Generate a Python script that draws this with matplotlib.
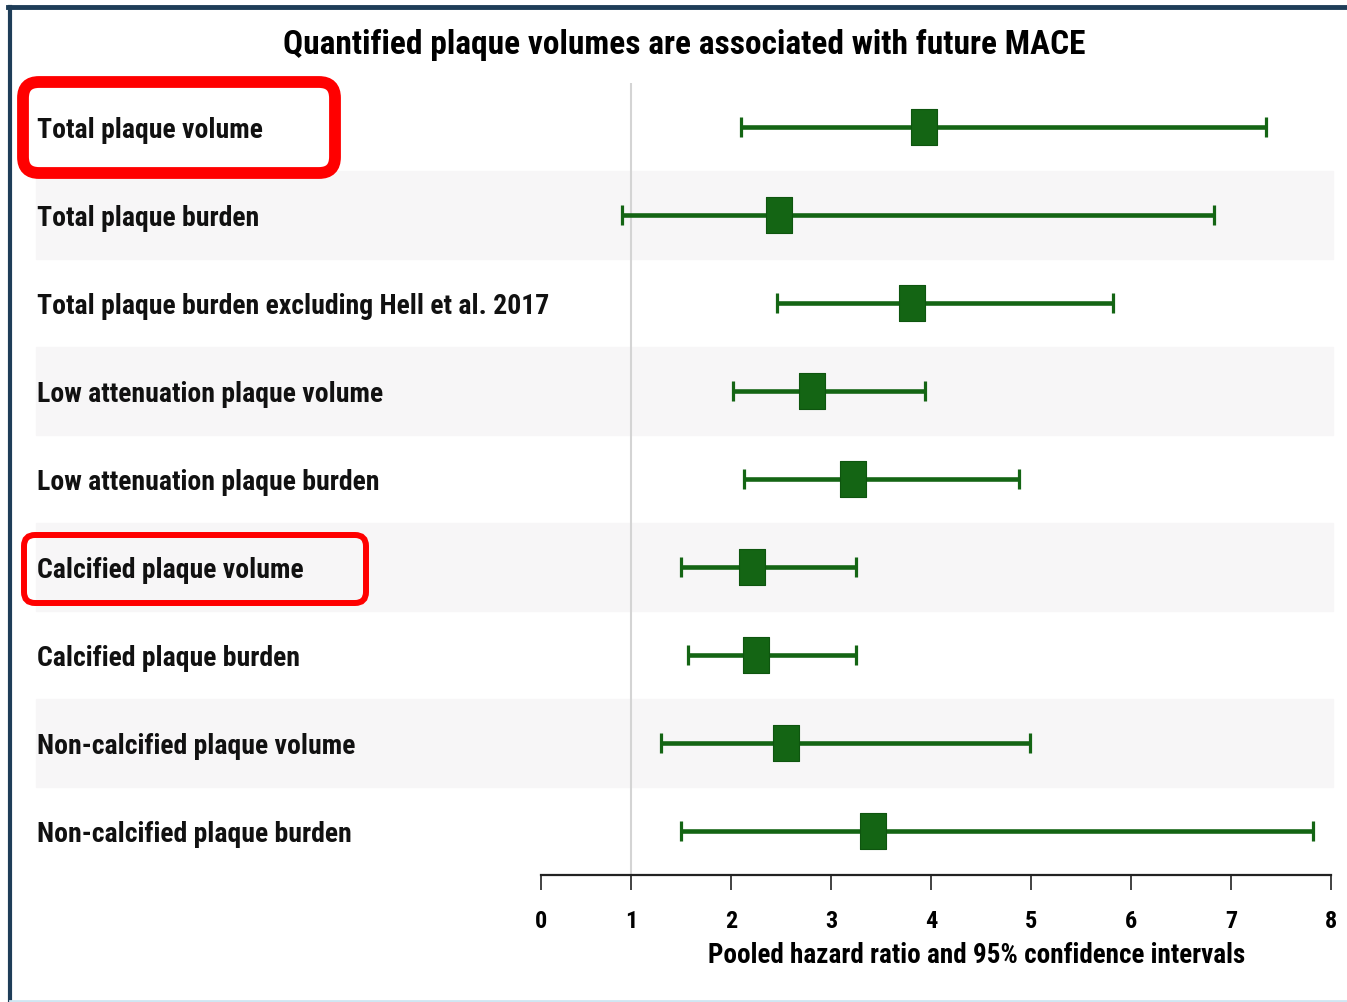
import matplotlib
matplotlib.use("Agg")
import matplotlib.pyplot as plt
import numpy as np
from matplotlib.patches import FancyBboxPatch
from matplotlib.lines import Line2D

plt.rcParams['font.family'] = ['Roboto Condensed', 'Liberation Sans', 'DejaVu Sans']
plt.rcParams['font.weight'] = 'bold'
plt.rcParams['axes.labelweight'] = 'bold'

# outcomes, top to bottom
labels = [
    "Total plaque volume",
    "Total plaque burden",
    "Total plaque burden excluding Hell et al. 2017",
    "Low attenuation plaque volume",
    "Low attenuation plaque burden",
    "Calcified plaque volume",
    "Calcified plaque burden",
    "Non-calcified plaque volume",
    "Non-calcified plaque burden",
]
hr = [3.93, 2.48, 3.81, 2.81, 3.22, 2.21, 2.25, 2.55, 3.42]
ci_low = [2.10, 0.90, 2.46, 2.02, 2.13, 1.50, 1.57, 1.30, 1.50]
ci_high = [7.35, 6.83, 5.82, 3.94, 4.88, 3.25, 3.25, 4.99, 7.82]
highlighted = ["Total plaque volume", "Calcified plaque volume"]

xticks = [0, 1, 2, 3, 4, 5, 6, 7, 8]

W, H = 1347, 1002
GREEN = '#146514'

fig = plt.figure(figsize=(W / 100, H / 100), dpi=100)
ax = fig.add_axes([541 / W, 1 - 875 / H, 790 / W, 792 / H])

# the original axis squeezes the 0-1 segment a bit
ax.set_xscale('function', functions=(
    lambda x: np.where(x < 1, 0.9 * x, x - 0.1),
    lambda y: np.where(y < 0.9, y / 0.9, y + 0.1)))

rows = list(range(1, len(labels) + 1))

# alternating row shading, extended under the labels
for r in rows:
    if r % 2 == 0:
        ax.axhspan(r - 0.5, r + 0.5, xmin=-0.639, xmax=1.003,
                   color='#f7f6f7', zorder=0, clip_on=False)

ax.axvline(1, color='#d4d4d4', lw=1.5, zorder=1)

err = [[h - lo for h, lo in zip(hr, ci_low)], [hi - h for h, hi in zip(hr, ci_high)]]
ax.errorbar(hr, rows, xerr=err, fmt='none', ecolor=GREEN, elinewidth=3.3,
            capsize=7.5, capthick=2.3, zorder=2)
box = [(-1, -1.42), (1, -1.42), (1, 1.42), (-1, 1.42), (-1, -1.42)]
ax.plot(hr, rows, ls='none', marker=box, markersize=26.5,
        color=GREEN, mec='#0e550f', mew=0.8, zorder=3)

for r, lab in zip(rows, labels):
    ax.annotate(lab, xy=(37 / W, r), xycoords=('figure fraction', 'data'),
                xytext=(0, -3), textcoords='offset pixels',
                va='center', ha='left', fontsize=20, color='#111111')

ax.set_xlim(0, 8)
ax.set_ylim(len(labels) + 0.5, 0.5)
ax.set_xticks(xticks)
ax.set_yticks([])
for s in ['top', 'right', 'left']:
    ax.spines[s].set_visible(False)
ax.spines['bottom'].set_linewidth(1.6)
ax.spines['bottom'].set_color('#222222')
ax.tick_params(axis='x', direction='out', length=11, width=1.2, color='#222222',
               pad=14, labelsize=17.5)
ax.set_xlabel("Pooled hazard ratio and 95% confidence intervals", fontsize=19.5)
ax.xaxis.set_label_coords(0.551, -0.085)
ax.patch.set_visible(False)

fig.text(684 / W, 1 - 45 / H, "Quantified plaque volumes are associated with future MACE",
         ha='center', va='center', fontsize=24)

# red highlight boxes around two labels
for lab, (x0, y0, x1, y1, lw, rad) in zip(highlighted, [(23, 82, 335, 173, 8.5, 16),
                                                      (24, 535, 366, 603, 4.3, 11)]):
    fig.patches.append(FancyBboxPatch(
        ((x0 + rad) / W, 1 - (y1 - rad) / H), (x1 - x0 - 2 * rad) / W, (y1 - y0 - 2 * rad) / H,
        boxstyle=f"round,pad={rad / W}", transform=fig.transFigure,
        fill=False, ec='#ff0000', lw=lw, mutation_aspect=W / H))

# frame lines of the original figure
fig.add_artist(Line2D([8 / W, 1], [1 - 7 / H, 1 - 7 / H], color='#1e3d58', lw=3.5))
fig.add_artist(Line2D([10 / W, 10 / W], [0, 1 - 7 / H], color='#1e3d58', lw=3))
fig.add_artist(Line2D([10 / W, 1], [1 / H, 1 / H], color='#cfe6f2', lw=2))

fig.savefig("out.png", dpi=100)
